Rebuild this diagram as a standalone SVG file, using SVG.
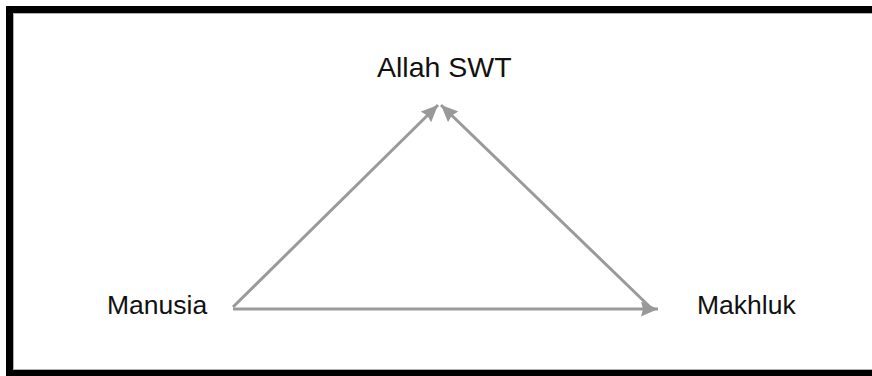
<svg xmlns="http://www.w3.org/2000/svg" width="872" height="376" viewBox="0 0 872 376">
  <defs>
    <style>
      .lbl { font-family: "Liberation Sans", Arial, sans-serif; fill: #111; }
      .edge { stroke: #9a9a9a; stroke-width: 3; fill: none; }
    </style>
    <marker id="arr" markerUnits="userSpaceOnUse" markerWidth="20" markerHeight="16" refX="17" refY="7.5" orient="auto" viewBox="0 0 20 16">
      <path d="M0,0 L17,7.5 L0,15 L2,7.5 z" fill="#999999"/>
    </marker>
  </defs>
  <rect width="872" height="376" fill="#ffffff"/>
  <rect x="9.5" y="9.5" width="880" height="364" fill="none" stroke="#000" stroke-width="7"/>
  <rect x="13.5" y="13.5" width="880" height="356" fill="none" stroke="#b0b0b0" stroke-width="1"/>
  <g id="connectors">
    <line class="edge" x1="233" y1="309" x2="658" y2="309" marker-end="url(#arr)"/>
    <line class="edge" x1="233" y1="307" x2="438" y2="105" marker-end="url(#arr)"/>
    <line class="edge" x1="650" y1="307" x2="441" y2="105" marker-end="url(#arr)"/>
  </g>
  <g id="allah">
    <text class="lbl" x="377" y="77" font-size="28.5">Allah SWT</text>
  </g>
  <g id="manusia">
    <text class="lbl" x="107" y="314" font-size="26.5">Manusia</text>
  </g>
  <g id="makhluk">
    <text class="lbl" x="697" y="314" font-size="26.5">Makhluk</text>
  </g>
</svg>
